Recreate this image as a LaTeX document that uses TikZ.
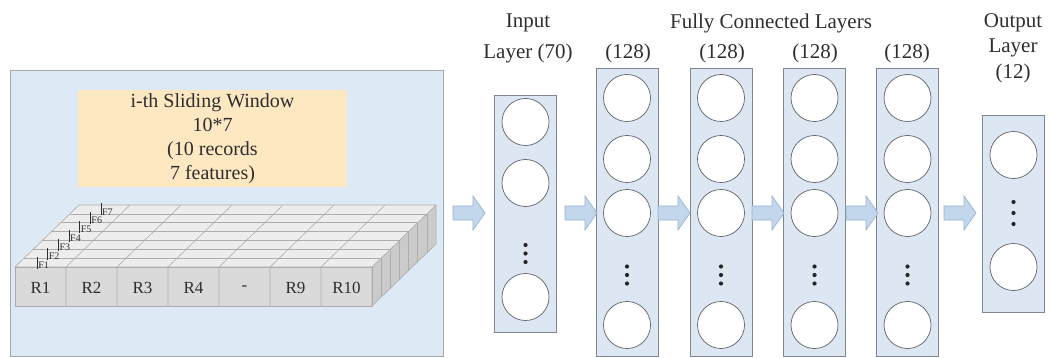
\documentclass[tikz,border=0pt]{standalone}
\usepackage{fontspec}
\setmainfont{Liberation Serif}
\definecolor{panelblue}{HTML}{DEE9F6}
\definecolor{panelline}{HTML}{A3A8AE}
\definecolor{noteyellow}{HTML}{FDE8C2}
\definecolor{colblue}{HTML}{DCE7F3}
\definecolor{colline}{HTML}{7E8792}
\definecolor{ringgray}{HTML}{5E6266}
\definecolor{arrowfill}{HTML}{C3D7EC}
\definecolor{arrowline}{HTML}{97B2D1}
\definecolor{txt}{HTML}{2E2E2E}
\definecolor{slabtop}{HTML}{EDEDED}
\definecolor{slabfront}{HTML}{DADADA}
\definecolor{slabside}{HTML}{CBCBCB}
\definecolor{slabline}{HTML}{ADADAD}
\begin{document}
\begin{tikzpicture}[x=1pt,y=-1pt,
  panel/.style={draw=panelline,fill=panelblue,line width=0.8pt},
  layerbox/.style={rectangle,draw=colline,fill=colblue,line width=0.8pt,minimum width=62pt,inner sep=0pt},
  neuron/.style={circle,draw=ringgray,fill=white,line width=0.7pt,minimum size=47pt,inner sep=0pt},
  hdr/.style={font=\rmfamily\fontsize{21}{25}\selectfont,text=txt,inner sep=0pt},
  rlabel/.style={font=\rmfamily\fontsize{17}{20}\selectfont,text=txt,inner sep=0pt},
  flabel/.style={font=\rmfamily\fontsize{10}{11}\selectfont,text=txt,inner sep=0pt},
  slabedge/.style={draw=slabline,line width=0.6pt},
  arrowbody/.style={draw=arrowline,fill=arrowfill,line width=0.7pt,line join=miter},
  blockarrow/.pic={\draw[arrowbody] (0,-7) -- (20,-7) -- (20,-17) -- (32,0) -- (20,17) -- (20,7) -- (0,7) -- cycle;}
]
\useasboundingbox (0,0) rectangle (1051,358);

% ---- sliding-window panel ----
\draw[panel] (10,70) rectangle (443,356);
\node[fill=noteyellow,minimum width=269pt,minimum height=97pt,inner sep=0pt] (note) at (212.5,138.5) {};
\node[font=\rmfamily\fontsize{20}{24}\selectfont,text=txt,align=center,inner sep=0pt] (notetext) at (note.center)
  {i-th Sliding Window\\10*7\\(10 records\\7 features)};

% slab faces: front (15..372, 267..306), depth vector (64,-62)
\fill[slabtop]   (15,267) -- (372,267) -- (436,205) -- (79,205) -- cycle;
\fill[slabside]  (372,267) -- (436,205) -- (436,244) -- (372,306) -- cycle;
\fill[slabfront] (15,267) rectangle (372,306);
% rows of the top and strips of the side
\foreach \k in {1,...,6}{
  \draw[slabedge] ({15+64*\k/7},{267-62*\k/7}) -- ({372+64*\k/7},{267-62*\k/7});
  \draw[slabedge] ({372+64*\k/7},{267-62*\k/7}) -- ({372+64*\k/7},{306-62*\k/7});
}
% record columns on front and top
\foreach \j in {1,...,6}{
  \draw[slabedge] ({15+51*\j},306) -- ({15+51*\j},267) -- ({79+51*\j},205);
}
\draw[slabedge] (15,267) -- (372,267) -- (436,205) -- (79,205) -- cycle;
\draw[slabedge] (372,267) -- (372,306) -- (436,244) -- (436,205);
\draw[slabedge] (15,267) rectangle (372,306);

% record labels
\foreach \t [count=\i from 0] in {R1,R2,R3,R4,{\raisebox{-2pt}{-}},R9,R10}{
  \node[rlabel] (rec\i) at ({40.5+51*\i},288) {\t};
}
% feature labels along the left edge of the top face
\foreach \k in {1,...,7}{
  \node[flabel,anchor=south west] (feat\k) at ({15+64*(\k-0.5)/7+17+1.5*\k},{267-62*(\k-0.5)/7+6}) {F\k};
  \draw[txt,line width=0.5pt] ([xshift=-1pt]feat\k.south west) -- ++(0,-12);
}

% ---- layers ----
\node[layerbox,minimum height=237pt] (inlayer) at (525.5,213.5) {};
\node[layerbox,minimum height=288pt] (fc1) at (627,212) {};
\node[layerbox,minimum height=288pt] (fc2) at (721,212) {};
\node[layerbox,minimum height=288pt] (fc3) at (814.5,212) {};
\node[layerbox,minimum height=288pt] (fc4) at (907.5,212) {};
\node[layerbox,minimum height=197pt] (outlayer) at (1013.5,213.5) {};

% input layer neurons
\node[neuron] (in1) at (525.5,122) {};
\node[neuron] (in2) at (525.5,183) {};
\node[neuron] (in3) at (525.5,297) {};
\foreach \y in {245,253.5,262} \fill[black!85] (525.5,\y) circle (2.1pt);

% fully connected layer neurons
\foreach \c/\x in {fc1/627,fc2/721,fc3/814.5,fc4/907.5}{
  \node[neuron] (\c n1) at (\x,98) {};
  \node[neuron] (\c n2) at (\x,159) {};
  \node[neuron] (\c n3) at (\x,213) {};
  \node[neuron] (\c n4) at (\x,325) {};
  \foreach \y in {266.5,275,283.5} \fill[black!85] (\x,\y) circle (2.1pt);
}

% output layer neurons
\node[neuron] (out1) at (1013.5,155) {};
\node[neuron] (out2) at (1013.5,267) {};
\foreach \y in {202,213,224} \fill[black!85] (1013.5,\y) circle (2.1pt);

% ---- flow arrows ----
\pic at (453,213) {blockarrow};
\pic at (565,213) {blockarrow};
\pic at (658,213) {blockarrow};
\pic at (752,213) {blockarrow};
\pic at (846,213) {blockarrow};
\pic at (944,213) {blockarrow};

% ---- headings ----
\node[hdr] (hin1) at (528,23) {Input};
\node[hdr] (hin2) at (528,53) {Layer (70)};
\node[hdr] (hfc)  at (771,23) {Fully Connected Layers};
\node[hdr] (hfc1) at (628,53) {(128)};
\node[hdr] (hfc2) at (722,53) {(128)};
\node[hdr] (hfc3) at (815,53) {(128)};
\node[hdr] (hfc4) at (907,53) {(128)};
\node[hdr] (hout1) at (1013,23) {Output};
\node[hdr] (hout2) at (1013,48) {Layer};
\node[hdr] (hout3) at (1013,73) {(12)};
\end{tikzpicture}
\end{document}
